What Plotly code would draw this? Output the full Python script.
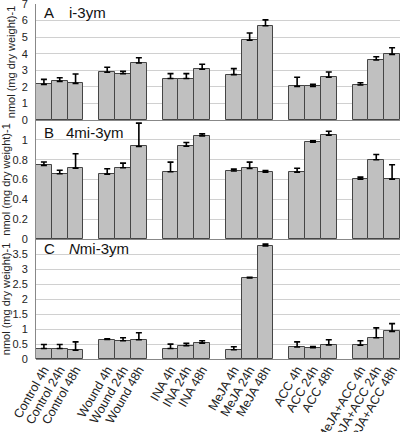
import plotly.graph_objects as go

groups = ["Control", "Wound", "INA", "MeJA", "ACC", "MeJA+ACC"]
times = ["4h", "24h", "48h"]

# Panel A: i-3ym
a_vals = [2.15, 2.33, 2.21, 2.88, 2.80, 3.44, 2.50, 2.50, 3.06, 2.74, 4.81, 5.69, 2.03, 2.03, 2.58, 2.11, 3.62, 3.96]
a_err = [0.30, 0.22, 0.57, 0.30, 0.14, 0.32, 0.30, 0.30, 0.30, 0.36, 0.44, 0.35, 0.55, 0.12, 0.32, 0.14, 0.20, 0.40]
# Panel B: 4mi-3ym
b_vals = [0.742, 0.658, 0.715, 0.654, 0.718, 0.933, 0.678, 0.936, 1.040, 0.685, 0.711, 0.674, 0.674, 0.976, 1.047, 0.604, 0.799, 0.604]
b_err = [0.035, 0.035, 0.145, 0.055, 0.047, 0.235, 0.097, 0.037, 0.020, 0.020, 0.064, 0.017, 0.040, 0.014, 0.040, 0.020, 0.053, 0.144]
# Panel C: Nmi-3ym
c_vals = [0.35, 0.35, 0.29, 0.65, 0.61, 0.64, 0.35, 0.44, 0.53, 0.31, 2.70, 3.77, 0.40, 0.38, 0.47, 0.46, 0.71, 0.92]
c_err = [0.135, 0.135, 0.28, 0.02, 0.10, 0.235, 0.145, 0.08, 0.08, 0.10, 0.02, 0.06, 0.17, 0.035, 0.17, 0.146, 0.326, 0.26]

labels = [f"{g} {t}" for g in groups for t in times]
xpos = [gi * 4 + ti for gi in range(len(groups)) for ti in range(len(times))]

FONT = "Liberation Sans, Arial, sans-serif"
BAR = "#c0c0c0"
EDGE = "#454545"
GRID = "#d0d0d0"

fig = go.Figure()
panels = [(a_vals, a_err, "y", "x"), (b_vals, b_err, "y2", "x2"), (c_vals, c_err, "y3", "x3")]
for vals, err, ya, xa in panels:
    fig.add_trace(go.Bar(
        x=xpos, y=vals, width=1.0, xaxis=xa, yaxis=ya,
        marker=dict(color=BAR, line=dict(color=EDGE, width=1)),
        error_y=dict(type="data", array=err, arrayminus=[0] * len(err), symmetric=False,
                     color="#000000", thickness=1.6, width=3),
        showlegend=False,
    ))

top_px, bot_px, H = 4, 359, 432
ph = bot_px - top_px
def py(p):
    return (bot_px - p) / ph

dA = [py(120), 1.0]
dB = [py(239), py(120)]
dC = [0.0, py(239)]

xcommon = dict(range=[-0.5, 22.5], showgrid=False, zeroline=False, showline=False,
               tickmode="array", tickvals=xpos, ticktext=labels)
ycommon = dict(showgrid=True, gridcolor=GRID, gridwidth=1, zeroline=True, zerolinecolor="#888888",
               zerolinewidth=1, showline=True, linecolor="#888888", linewidth=1, ticks="",
               ticklabelstandoff=5, ticklabeloverflow="allow",
               tickfont=dict(family=FONT, size=11, color="#222222"),
               title=dict(text="nmol (mg dry weight)-1", font=dict(family=FONT, size=11, color="#222222"), standoff=3),
               automargin=False)

fig.update_layout(
    width=400, height=H,
    margin=dict(l=36, r=0, t=top_px, b=H - bot_px),
    paper_bgcolor="white", plot_bgcolor="white",
    bargap=0,
    font=dict(family=FONT, size=11, color="#222222"),
    xaxis=dict(**xcommon, anchor="y", showticklabels=False),
    xaxis2=dict(**xcommon, anchor="y2", matches="x", showticklabels=False),
    xaxis3=dict(**xcommon, anchor="y3", matches="x", showticklabels=True, tickangle=-60,
                ticklabeloverflow="allow",
                tickfont=dict(family=FONT, size=12.5, color="#222222"), automargin=False),
    yaxis=dict(**ycommon, domain=dA, range=[0, 7], tickvals=[0, 1, 2, 3, 4, 5, 6, 7], anchor="x"),
    yaxis2=dict(**ycommon, domain=dB, range=[0, 1.2], tickvals=[0, 0.2, 0.4, 0.6, 0.8, 1, 1.2],
                ticktext=["0", "0.2", "0.4", "0.6", "0.8", "1", ""], anchor="x2"),
    yaxis3=dict(**ycommon, domain=dC, range=[0, 4], tickvals=[0, 0.5, 1, 1.5, 2, 2.5, 3, 3.5, 4],
                ticktext=["0", "0.5", "1", "1.5", "2", "2.5", "3", "3.5", ""], anchor="x3"),
)

def px_x(p):
    return (p - 36) / 364

ann = [("A", 42, 13), ("i-3ym", 67, 13), ("B", 42, 132), ("4mi-3ym", 64, 132),
       ("C", 42, 248), ("<i>N</i>mi-3ym", 67, 248)]
for txt, x, y in ann:
    fig.add_annotation(text=txt, xref="paper", yref="paper", x=px_x(x), y=py(y),
                       xanchor="left", yanchor="middle", showarrow=False,
                       font=dict(family=FONT, size=15, color="#111111"))

fig.write_html("out.html", config={"displayModeBar": False},
               post_script="document.body.style.margin='0';document.body.style.overflow='hidden';")
